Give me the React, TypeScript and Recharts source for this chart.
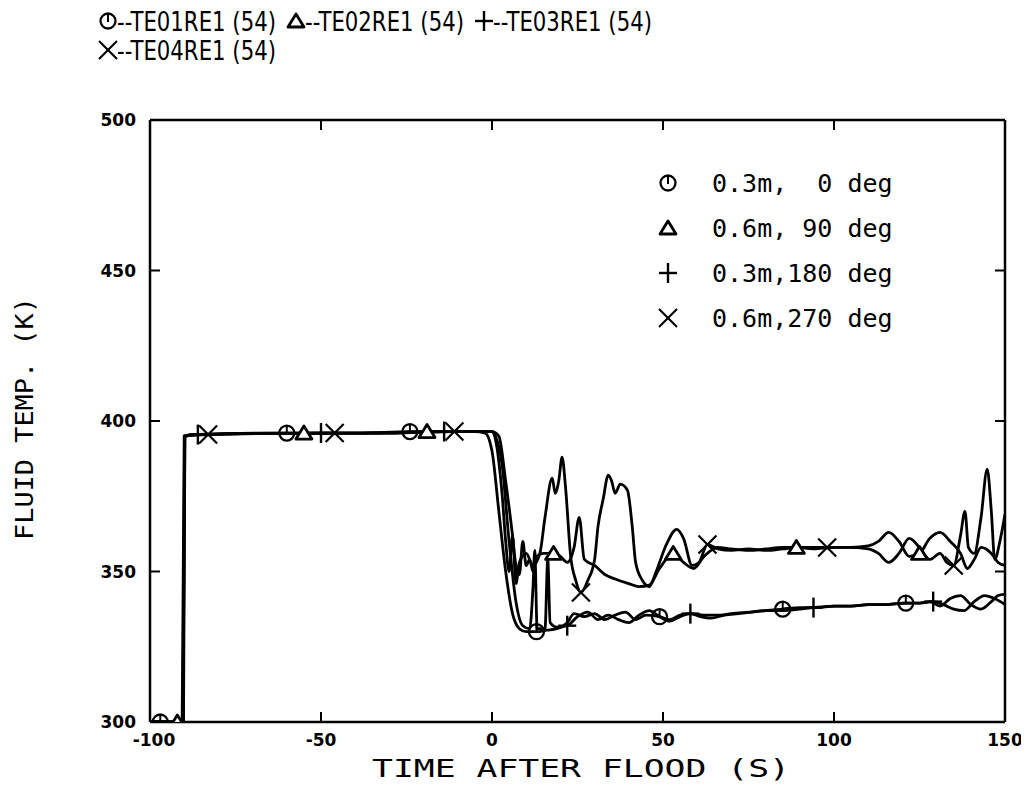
import React from 'react';
import { LineChart, Line, XAxis, YAxis } from 'recharts';

const xTicks = [-100, -50, 0, 50, 100, 150];
const yTicks = [300, 350, 400, 450, 500];

// 0.3m, 0 deg
const te01: [number, number][] = [
  [-100, 300], [-97, 300], [-90.6, 300], [-90, 395], [-88, 395.5], [-60, 396], [-40, 396], [-24, 396.5],
  [-5, 396.5], [-2, 396], [0, 390], [2, 370], [4, 350], [6, 336], [8, 331], [10, 330], [13, 330],
  [16, 330.5], [19, 331], [22, 333], [24, 336], [27, 335], [30, 336], [33, 334], [36, 335.5], [39, 336.5],
  [42, 334], [45, 335.5], [49, 335], [52, 334], [55, 335.5], [58, 336], [61, 335], [64, 334.5], [68, 335.5],
  [72, 336], [76, 336.5], [80, 337], [85, 337.5], [90, 338], [95, 338], [100, 338.5], [105, 338.5],
  [110, 339], [115, 339], [121, 339.5], [125, 339.5], [128, 340], [131, 338.5], [134, 341], [137, 342],
  [140, 339], [143, 337.5], [146, 340], [148, 342], [150, 342.5],
];

// 0.6m, 90 deg
const te02: [number, number][] = [
  [-100, 300], [-92, 300], [-90.2, 300], [-89.8, 395], [-86, 395.5], [-55, 396], [-35, 396], [-19, 396.5],
  [0, 396.5], [2, 395], [4, 380], [6, 362], [7, 352], [8, 349], [9, 360], [10, 352], [11, 354], [12, 350],
  [13, 355], [15, 356], [18, 356], [20, 355], [22, 353], [24, 358], [25.5, 368], [27, 354], [30, 352],
  [33, 349], [36, 347.5], [40, 346], [43, 345], [46, 345.5], [49, 351], [53, 356], [56, 353], [59, 351],
  [62, 355], [66, 358], [70, 357.5], [75, 357], [80, 357.5], [85, 358], [89, 358], [94, 357.5], [100, 358],
  [105, 358], [110, 358.5], [113, 360], [116, 363], [119, 360], [122, 355], [125, 356], [128, 361],
  [131, 363], [134, 360], [137, 356], [139, 351], [141, 354], [143, 358], [146, 356], [148, 353], [150, 352],
];

// 0.3m, 180 deg
const te03: [number, number][] = [
  [-100, 300], [-90.4, 300], [-89.8, 395], [-86, 395.5], [-50, 396], [-30, 396], [-14, 396.5], [0, 396.5],
  [1, 395], [3, 385], [5, 360], [7, 340], [9, 332], [11, 331], [12, 345], [12.5, 357], [13.2, 331],
  [15.5, 331], [16.3, 354], [17, 333], [19, 331.5], [22, 332], [25, 335], [28, 336.5], [31, 334],
  [34, 335.5], [37, 334], [40, 333], [43, 335.5], [46, 337], [49, 335], [52, 333.5], [55, 335], [58, 336],
  [62, 335.5], [66, 335.5], [70, 336], [75, 336.5], [80, 337], [85, 337], [90, 337.5], [94, 338],
  [100, 338.5], [105, 338.5], [110, 339], [115, 339], [120, 339.5], [125, 339.5], [129, 340], [132, 339],
  [135, 337.5], [138, 337], [141, 340], [144, 342], [147, 341], [150, 339],
];

// 0.6m, 270 deg
const te04: [number, number][] = [
  [-100, 300], [-90.3, 300], [-89.9, 395], [-83, 395.5], [-46, 396], [-30, 396], [-11, 396.5], [0, 396.5],
  [1, 394], [3, 375], [4, 360], [5, 350], [6, 362], [7, 346], [8, 353], [10, 356], [12, 352], [14, 356],
  [15.5, 368], [17.6, 381], [18.5, 376], [19.5, 380], [20.5, 388], [21.5, 378], [23, 355], [24.5, 347],
  [26, 343], [28, 347], [30, 354], [31, 365], [32.5, 374], [34, 382], [35, 380], [36, 376], [37.5, 379],
  [39.6, 377], [41, 365], [42, 353], [44, 347], [46, 345], [48, 350], [51, 359], [54, 364], [56, 361],
  [58.5, 352], [60.5, 353], [63, 359], [66, 357.5], [70, 357], [75, 357.5], [80, 357], [85, 357.5],
  [90, 358], [98, 358], [104, 358], [110, 357.5], [113, 356], [116, 353], [119, 356], [122, 361],
  [125, 358], [128, 354], [131, 356], [133, 353], [135, 352], [137, 362], [138.3, 370], [139.3, 358],
  [141, 356], [143, 368], [144.8, 384], [146, 370], [147, 354], [148.5, 360], [150, 369],
];

// times where the plotter drew a symbol on each curve
const te01Marks = [-97, -60, -24, 13, 49, 85, 121];
const te02Marks = [-92, -55, -19, 18, 53, 89, 125];
const te03Marks = [-86, -50, -14, 22, 58, 94, 129];
const te04Marks = [-83, -46, -11, 26, 63, 98, 135];

const channelNames = ['TE01RE1 (54)', 'TE02RE1 (54)', 'TE03RE1 (54)', 'TE04RE1 (54)'];
const positionLabels = ['0.3m,  0 deg', '0.6m, 90 deg', '0.3m,180 deg', '0.6m,270 deg'];
const symbols = ['circle', 'triangle', 'plus', 'cross'];

const toPts = (arr: [number, number][]) => arr.map(([t, v]) => ({ t, v }));

function Sym({ kind, x, y }: { kind: string; x: number; y: number }) {
  if (kind === 'circle')
    return (
      <g>
        <circle cx={x} cy={y} r={7.5} fill="none" stroke="#000" strokeWidth={2.3} />
        <line x1={x} y1={y - 7.5} x2={x} y2={y + 1} stroke="#000" strokeWidth={2} />
      </g>
    );
  if (kind === 'triangle')
    return (
      <polygon
        points={`${x},${y - 7} ${x - 8},${y + 6} ${x + 8},${y + 6}`}
        fill="#fff"
        stroke="#000"
        strokeWidth={2.8}
        strokeLinejoin="round"
      />
    );
  if (kind === 'plus')
    return (
      <g stroke="#000" strokeWidth={2.4}>
        <line x1={x - 9} y1={y} x2={x + 9} y2={y} />
        <line x1={x} y1={y - 10} x2={x} y2={y + 10} />
      </g>
    );
  return (
    <g stroke="#000" strokeWidth={2.2}>
      <line x1={x - 9} y1={y - 9} x2={x + 9} y2={y + 9} />
      <line x1={x - 9} y1={y + 9} x2={x + 9} y2={y - 9} />
    </g>
  );
}

const makeDot = (marks: number[], kind: string) => (p: any) => {
  if (!marks.includes(p.payload.t)) return <g key={p.index} />;
  return (
    <g key={p.index}>
      <Sym kind={kind} x={p.cx} y={p.cy} />
    </g>
  );
};

const tickFont = { fontFamily: 'DejaVu Sans', fontWeight: 'bold' as const, fontSize: 17, fill: '#000' };

const BottomTick = (p: any) => {
  const v = p.payload.value;
  const edge = v === -100 || v === 150;
  return (
    <g>
      {!edge && <line x1={p.x} y1={p.y} x2={p.x} y2={p.y - 10} stroke="#000" strokeWidth={2} />}
      <text x={p.x + (v === -100 ? 4 : 0)} y={p.y + 18} textAnchor="middle" dominantBaseline="central" {...tickFont}>
        {v}
      </text>
    </g>
  );
};

const TopTick = (p: any) => {
  const v = p.payload.value;
  if (v === -100 || v === 150) return <g />;
  return <line x1={p.x} y1={p.y} x2={p.x} y2={p.y + 10} stroke="#000" strokeWidth={2} />;
};

const LeftTick = (p: any) => {
  const v = p.payload.value;
  const edge = v === 300 || v === 500;
  return (
    <g>
      {!edge && <line x1={p.x} y1={p.y} x2={p.x + 10} y2={p.y} stroke="#000" strokeWidth={2} />}
      <text x={p.x - 14} y={p.y} textAnchor="end" dominantBaseline="central" {...tickFont}>
        {v}
      </text>
    </g>
  );
};

const RightTick = (p: any) => {
  const v = p.payload.value;
  if (v === 300 || v === 500) return <g />;
  return <line x1={p.x} y1={p.y} x2={p.x - 10} y2={p.y} stroke="#000" strokeWidth={2} />;
};

const series = [
  { data: toPts(te01), marks: te01Marks },
  { data: toPts(te02), marks: te02Marks },
  { data: toPts(te03), marks: te03Marks },
  { data: toPts(te04), marks: te04Marks },
];

// page offset of the chart (body margin)
const O = 8;
const headerStarts = [[100, 31], [288, 31], [476, 31], [100, 60]];

export default function App() {
  return (
    <div style={{ position: 'relative', width: 1021, height: 778 }}>
      <LineChart width={1021} height={772} margin={{ top: 111, right: 23, left: 82, bottom: 18 }}>
        <XAxis
          xAxisId={0}
          dataKey="t"
          type="number"
          domain={[-100, 150]}
          allowDataOverflow
          ticks={xTicks}
          interval={0}
          tickSize={0}
          tickMargin={0}
          tickLine={false}
          tick={BottomTick}
          height={40}
          axisLine={{ stroke: '#000', strokeWidth: 2.5 }}
        />
        <XAxis
          xAxisId="top"
          orientation="top"
          dataKey="t"
          type="number"
          domain={[-100, 150]}
          allowDataOverflow
          ticks={xTicks}
          interval={0}
          tickSize={0}
          tickMargin={0}
          tickLine={false}
          tick={TopTick}
          height={1}
          axisLine={{ stroke: '#000', strokeWidth: 2.5 }}
        />
        <YAxis
          yAxisId={0}
          type="number"
          domain={[300, 500]}
          allowDataOverflow
          ticks={yTicks}
          interval={0}
          tickSize={0}
          tickMargin={0}
          tickLine={false}
          tick={LeftTick}
          width={60}
          axisLine={{ stroke: '#000', strokeWidth: 2.5 }}
        />
        <YAxis
          yAxisId="right"
          orientation="right"
          type="number"
          domain={[300, 500]}
          allowDataOverflow
          ticks={yTicks}
          interval={0}
          tickSize={0}
          tickMargin={0}
          tickLine={false}
          tick={RightTick}
          width={1}
          axisLine={{ stroke: '#000', strokeWidth: 2.5 }}
        />
        {series.map((s, i) => (
          <Line
            key={i}
            data={s.data}
            dataKey="v"
            type="monotone"
            stroke="#000"
            strokeWidth={2.8}
            dot={makeDot(s.marks, symbols[i])}
            activeDot={false}
            isAnimationActive={false}
          />
        ))}
      </LineChart>
      <svg
        width={1021}
        height={778}
        style={{ position: 'absolute', left: 0, top: 0, pointerEvents: 'none' }}
      >
        {channelNames.map((name, i) => {
          const [x, y] = headerStarts[i];
          return (
            <g key={name}>
              <Sym kind={symbols[i]} x={x + 8 - O} y={y - 10 - O} />
              <text
                x={x + 17 - O}
                y={y - O}
                fontFamily="DejaVu Sans"
                fontSize={26}
                textLength={159}
                lengthAdjust="spacingAndGlyphs"
                style={{ whiteSpace: 'pre' }}
              >
                {'--' + name}
              </text>
            </g>
          );
        })}
        {positionLabels.map((lab, i) => {
          const cy = 183 + i * 45;
          return (
            <g key={lab}>
              <Sym kind={symbols[i]} x={668 - O} y={cy - O} />
              <text
                x={712 - O}
                y={cy + 9 - O}
                fontFamily="DejaVu Sans Mono"
                fontSize={25}
                style={{ whiteSpace: 'pre' }}
              >
                {lab}
              </text>
            </g>
          );
        })}
        <text
          x={372 - O}
          y={777 - O}
          fontFamily="DejaVu Sans Mono"
          fontSize={24}
          textLength={418}
          lengthAdjust="spacingAndGlyphs"
          style={{ whiteSpace: 'pre' }}
        >
          TIME AFTER FLOOD (S)
        </text>
        <text
          transform={`translate(${33 - O},${540 - O}) rotate(-90)`}
          fontFamily="DejaVu Sans Mono"
          fontSize={25}
          textLength={243}
          lengthAdjust="spacingAndGlyphs"
          style={{ whiteSpace: 'pre' }}
        >
          FLUID TEMP. (K)
        </text>
      </svg>
    </div>
  );
}
